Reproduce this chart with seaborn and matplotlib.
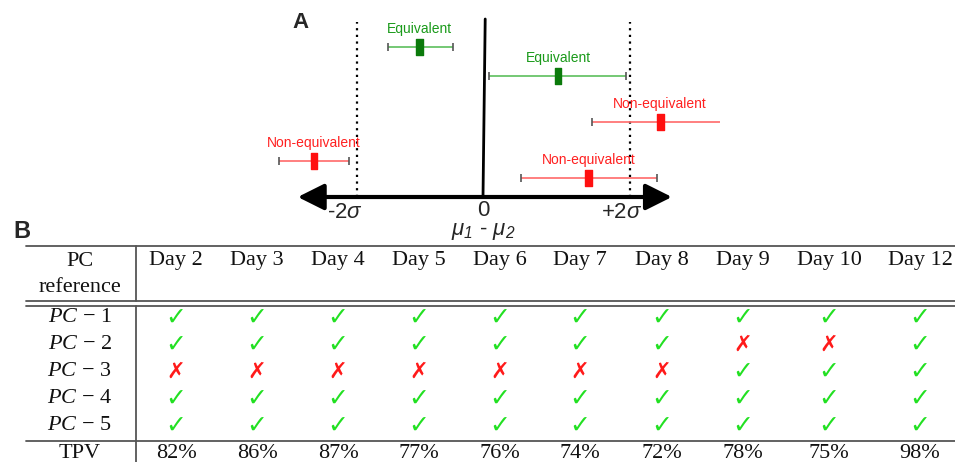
import pandas as pd
import matplotlib.pyplot as plt
import seaborn as sns
from matplotlib.markers import MarkerStyle
from matplotlib.transforms import Affine2D

# Panel A: equivalence intervals (in units of sigma)
labels = ['Equivalent', 'Equivalent', 'Non-equivalent', 'Non-equivalent', 'Non-equivalent']
centers = [-0.86, 1.02, 2.41, -2.30, 1.44]
lows = [-1.29, 0.08, 1.48, -2.78, 0.52]
highs = [-0.41, 1.95, 3.33, -1.82, 2.37]
levels = [150, 121, 75, 36, 19]
lower_bound, upper_bound = -1.72, 2.0

# Panel B: table
days = ['Day 2', 'Day 3', 'Day 4', 'Day 5', 'Day 6', 'Day 7', 'Day 8', 'Day 9', 'Day 10', 'Day 12']
pcs = [r'$PC\,-\,1$', r'$PC\,-\,2$', r'$PC\,-\,3$', r'$PC\,-\,4$', r'$PC\,-\,5$']
passed = [
    [1, 1, 1, 1, 1, 1, 1, 1, 1, 1],
    [1, 1, 1, 1, 1, 1, 1, 0, 0, 1],
    [0, 0, 0, 0, 0, 0, 0, 1, 1, 1],
    [1, 1, 1, 1, 1, 1, 1, 1, 1, 1],
    [1, 1, 1, 1, 1, 1, 1, 1, 1, 1],
]
tpv = ['82%', '86%', '87%', '77%', '76%', '74%', '72%', '78%', '75%', '98%']

sns.set_theme(style='white')
plt.rcParams['font.family'] = ['Liberation Sans', 'DejaVu Sans']
plt.rcParams['mathtext.fontset'] = 'custom'
plt.rcParams['mathtext.it'] = 'Liberation Serif:italic'
plt.rcParams['mathtext.rm'] = 'Liberation Serif'
plt.rcParams['mathtext.sf'] = 'Liberation Sans:italic'

df = pd.DataFrame({'label': labels, 'center': centers, 'low': lows,
                   'high': highs, 'level': levels})

fig = plt.figure(figsize=(9.55, 4.62), dpi=100)

# ---- table axes in pixel coordinates
axT = fig.add_axes([0, 0, 1, 1])
axT.set_xlim(0, 955)
axT.set_ylim(462, 0)
axT.axis('off')

rule = dict(color='#555555', lw=1.3)
axT.plot([26, 955], [246, 246], **rule)
axT.plot([26, 955], [301, 301], **rule)
axT.plot([26, 955], [305.5, 305.5], **rule)
axT.plot([26, 955], [441, 441], **rule)
axT.plot([136, 136], [246, 301], **rule)
axT.plot([136, 136], [305.5, 462], **rule)

serif = dict(family='Liberation Serif', fontsize=16, ha='center', va='center', color='#111111')
col_x = [176, 257, 338, 419, 500, 580, 662, 743, 829, 920]
axT.text(80, 261, 'PC', **serif)
axT.text(80, 287, 'reference', **serif)
for x, d in zip(col_x, days):
    axT.text(x, 261, d, **serif)

row_y = [318 + 26.8 * i for i in range(len(pcs))]
for y, pc, row in zip(row_y, pcs, passed):
    axT.text(80, y, pc, **serif)
    for x, ok in zip(col_x, row):
        if ok:
            axT.text(x, y, '\u2713', family='DejaVu Sans', fontsize=18, fontweight='bold',
                     ha='center', va='center', color='#22e022')
        else:
            axT.text(x, y, '\u2717', family='DejaVu Sans', fontsize=16, fontweight='bold',
                     ha='center', va='center', color='#ff1a1a')

axT.text(80, 453, 'TPV', **serif)
for x, v in zip(col_x, tpv):
    axT.text(x, 453, v, **serif)

# ---- panel A
axA = fig.add_axes([240 / 955, 222 / 462, 480 / 955, 240 / 462])
axA.set_xlim((240 - 483) / 73.5, (720 - 483) / 73.5)
axA.set_ylim(-43, 197)
axA.axis('off')
axA.patch.set_alpha(0)

text_col = {'Equivalent': '#1a9a1a', 'Non-equivalent': '#ff2020'}
mark_col = {'Equivalent': '#0b7a0b', 'Non-equivalent': '#ff1010'}
line_col = {'Equivalent': '#5cbf5c', 'Non-equivalent': '#ff6a6a'}

for _, r in df.iterrows():
    axA.hlines(r['level'], r['low'], r['high'], color=line_col[r['label']], lw=1.2, zorder=3)
    axA.vlines([r['low'], r['high']], r['level'] - 4, r['level'] + 4, color='#555555', lw=1.2, zorder=3)
    axA.text(r['center'], r['level'] + 18, r['label'], color=text_col[r['label']],
             fontsize=10, ha='center', va='center')

sns.scatterplot(data=df, x='center', y='level', hue='label', palette=mark_col,
                marker=MarkerStyle('s', transform=Affine2D().scale(0.45, 1.0)),
                s=120, linewidth=1.0, edgecolor='face', legend=False, zorder=4, ax=axA)

axA.vlines([lower_bound, upper_bound], 0, 175, colors='black', linestyles=(0, (1, 2)), lw=1.6, zorder=2)
axA.plot([0, 0.03], [0, 178], color='black', lw=2, zorder=2)
axA.annotate('', xy=(2.57, 0), xytext=(-2.52, 0),
             arrowprops=dict(arrowstyle='<|-|>', lw=3, color='black', mutation_scale=40,
                             shrinkA=0, shrinkB=0))

axA.text(-1.88, -15, r'-2$\mathsf{\sigma}$', fontsize=16, ha='center', va='center')
axA.text(0, -13, '0', fontsize=16, ha='center', va='center')
axA.text(1.89, -15, r'+2$\mathsf{\sigma}$', fontsize=16, ha='center', va='center')
axA.text(0, -35, r'$\mathsf{\mu_1}$ - $\mathsf{\mu_2}$', fontsize=16, ha='center', va='center')

fig.text(300 / 955, 1 - 22 / 462, 'A', fontsize=16, fontweight='bold', ha='center', va='center')
fig.text(22 / 955, 1 - 232 / 462, 'B', fontsize=17, fontweight='bold', ha='center', va='center')

fig.savefig('out.png', dpi=100)
